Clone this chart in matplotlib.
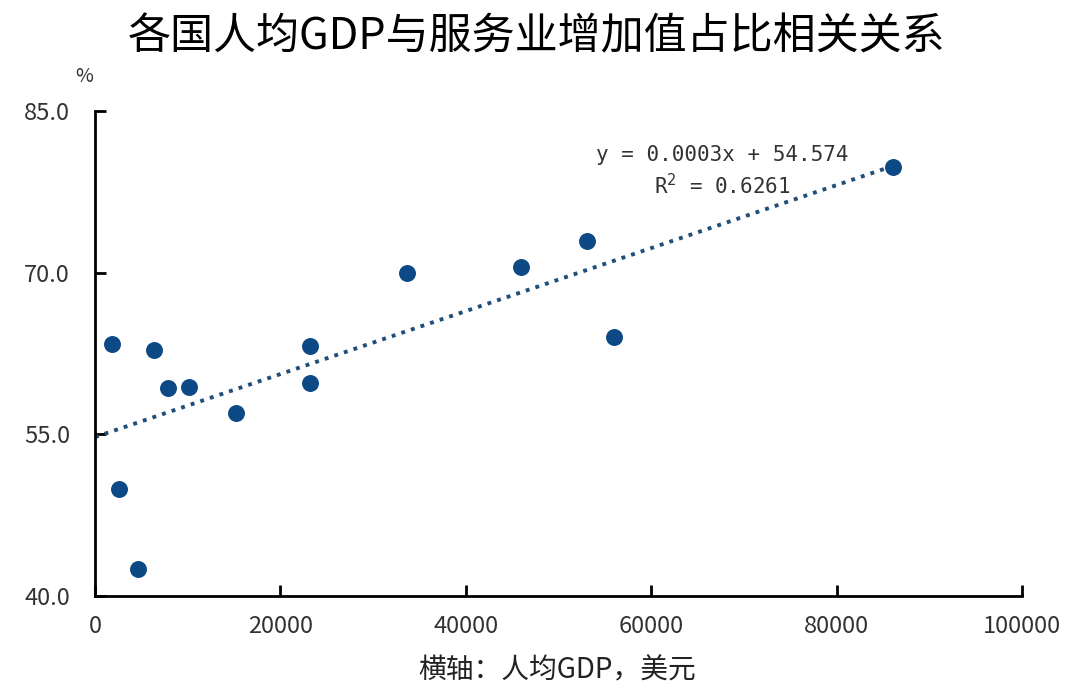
import numpy as np
import matplotlib.pyplot as plt

plt.rcParams['font.family'] = ['Noto Sans CJK SC', 'DejaVu Sans']

# per-capita GDP (USD) and service value-added share (%)
gdp = [1830, 2590, 4640, 6360, 7870, 10140, 15210, 23190, 23190,
       33660, 45950, 53070, 55990, 86080]
service_share = [63.4, 49.9, 42.5, 62.8, 59.3, 59.4, 57.0, 63.2, 59.8,
                 70.0, 70.5, 72.9, 64.0, 79.8]

x_ticks = [0, 20000, 40000, 60000, 80000, 100000]
y_ticks = [40.0, 55.0, 70.0, 85.0]

W, H = 1066, 687
fig = plt.figure(figsize=(W / 100, H / 100), dpi=100)
ax = fig.add_axes([95 / W, 1 - 596 / H, 927 / W, 485 / H])

ax.scatter(gdp, service_share, s=125, color='#0d4a85', zorder=3)

# linear trend line
x = np.array(gdp)
y = np.array(service_share)
k, b = np.polyfit(x, y, 1)
xs = np.linspace(0, x.max(), 50)
ax.plot(xs, k * xs + b, linestyle=(0, (1, 1.6)), color='#1f4e79', linewidth=2.8, zorder=2)

mono = ['DejaVu Sans Mono']
fig.text(722 / W, 1 - 155 / H, 'y = 0.0003x + 54.574', fontsize=15, family=mono,
         ha='center', va='center', color='#333333')
fig.text(722 / W, 1 - 186 / H, 'R$^2$ = 0.6261', fontsize=15, family=mono,
         ha='center', va='center', color='#333333')

ax.set_xlim(0, 100000)
ax.set_ylim(40, 85)
ax.set_xticks(x_ticks)
ax.set_xticklabels([str(t) for t in x_ticks])
ax.set_yticks(y_ticks)
ax.set_yticklabels([f'{t:.1f}' for t in y_ticks])
ax.tick_params(axis='both', direction='in', length=8, width=2, labelsize=17,
               labelcolor='#333333')
ax.tick_params(axis='y', pad=18)
ax.tick_params(axis='x', pad=14)

for side in ['top', 'right']:
    ax.spines[side].set_visible(False)
for side in ['left', 'bottom']:
    ax.spines[side].set_linewidth(2)
    ax.spines[side].set_color('black')

fig.text(84 / W, 1 - 76 / H, '%', fontsize=14, ha='center', va='center', color='#333333')
fig.text(557 / W, 1 - 670 / H, '横轴：人均GDP，美元', fontsize=20,
         ha='center', va='center', color='#222222')
fig.text(537 / W, 1 - 37 / H, '各国人均GDP与服务业增加值占比相关关系', fontsize=31,
         ha='center', va='center', color='black', weight='medium')

fig.savefig('out.png', dpi=100)
